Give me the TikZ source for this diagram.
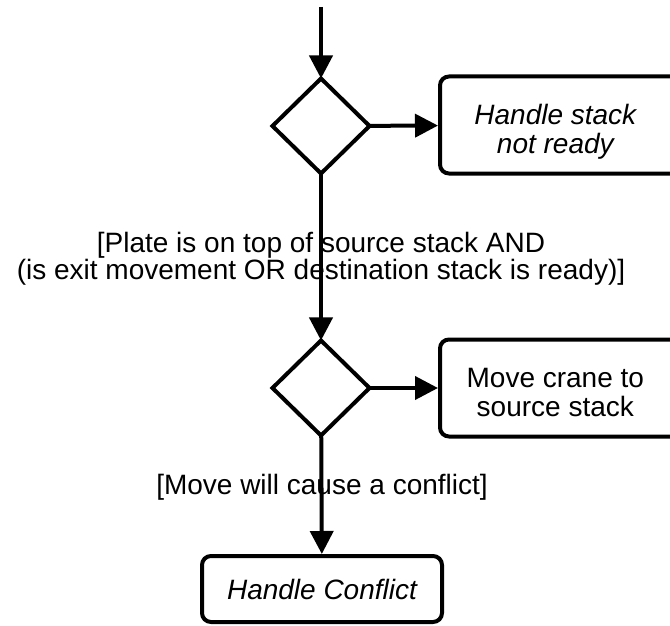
\documentclass[tikz,border=0pt]{standalone}
\usepackage{fontspec}
\setmainfont{Liberation Sans}
\usetikzlibrary{shapes.geometric,arrows.meta}

\newcommand{\cuttext}[1]{\makebox[224pt]{\begin{tabular}{@{}c@{}}\rule{0pt}{37pt}#1\end{tabular}}\hspace*{90pt}}

\begin{document}
\begin{tikzpicture}[x=1pt,y=-1pt,line width=4pt,
    >={Triangle[length=23pt,width=23pt]},
    decision/.style={draw,diamond,minimum width=97pt,minimum height=95pt,inner sep=0pt,outer sep=0pt},
    action/.style={draw,rounded corners=9pt,minimum height=97pt,font=\fontsize{28}{28}\selectfont},
    cut action/.style={action,anchor=west},
    guard/.style={align=center,font=\fontsize{28}{24}\selectfont}]
    \useasboundingbox (0,0) rectangle (670,626);
    \clip (0,0) rectangle (670,626);
    \coordinate (start) at (321,7);
    \node [decision] (ready check) at (321,126) {};
    \node [cut action,font=\fontsize{28}{28}\selectfont\itshape] (not ready) at (438,125) {\cuttext{Handle stack\\not ready}};
    \node [decision] (conflict check) at (321,388) {};
    \node [cut action] (move crane) at (438,388) {\cuttext{Move crane to\\source stack}};
    \node [action,minimum width=240pt,minimum height=66pt,font=\fontsize{28}{28}\selectfont\itshape] (handle conflict) at (322,589) {Handle Conflict};
    \draw[->] (start) -- (ready check);
    \draw[->] (ready check) -- (not ready);
    \draw[->] (ready check) -- (conflict check);
    \draw[->] (conflict check) -- (move crane);
    \draw[->] (conflict check) -- (handle conflict);
    \node [guard] (plate guard) at (321,259) {[Plate is on top of source stack AND\\(is exit movement OR destination stack is ready)]};
    \node [guard] (conflict guard) at (322,487) {[Move will cause a conflict]};
\end{tikzpicture}
\end{document}
